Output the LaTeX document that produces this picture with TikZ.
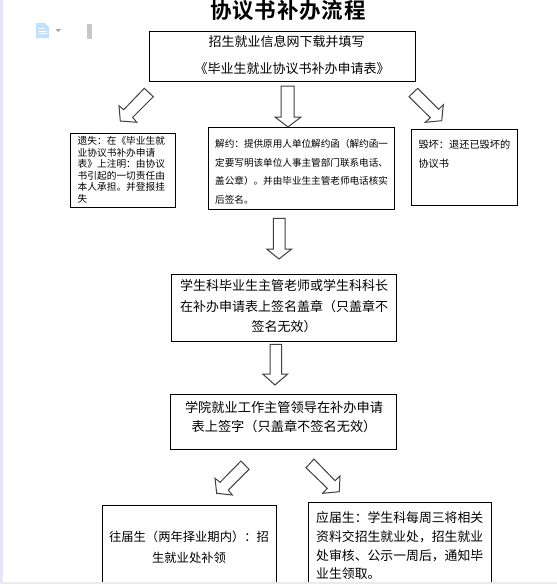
\documentclass[tikz,border=0pt]{standalone}
\usepackage{fontspec}
\setmainfont{Noto Sans CJK SC}[BoldFont={Noto Sans CJK SC Bold}]
\tikzset{
  x=1pt,y=-1pt,
  flowbox/.style={draw=black,line width=1pt,fill=white,inner sep=0pt},
  blockarrow/.style={draw=black!75,line width=1pt,fill=white,line join=miter},
  bodytext/.style={inner sep=0pt,align=left,anchor=north west,font=\fontsize{12.85}{18.7}\selectfont},
  smalltext/.style={inner sep=0pt,align=left,anchor=north west,font=\fontsize{9.7}{11.5}\selectfont},
  centertext/.style={inner sep=0pt,align=center},
}
\begin{document}
\begin{tikzpicture}
\useasboundingbox (0,0) rectangle (557,584);
\fill[white] (0,0) rectangle (557,584);
% toolbar remnants
\fill[blue!45!cyan!25!white] (36,23) -- (45,23) -- (49,27) -- (49,38) -- (36,38) -- cycle;
\draw[white,line width=0.9pt] (38.5,28)--(44,28) (38.5,31)--(47,31) (38.5,33.5)--(47,33.5);
\fill[black!35] (55.5,29) -- (61,29) -- (58.2,32) -- cycle;
\fill[black!22] (87,24) rectangle (92,39);
% title
\node[inner sep=0pt,font=\fontsize{21.5}{21.5}\selectfont\bfseries\addfontfeature{LetterSpace=3.7}] (title) at (288,10.5) {协议书补办流程};
% boxes
\node[flowbox,minimum width=266.4pt,minimum height=49.6pt] (top) at (282.5,56.5) {};
\node[centertext,font=\fontsize{13}{13}\selectfont] (toptext1) at (286.5,41.5) {招生就业信息网下载并填写};
\node[centertext,font=\fontsize{13}{13}\selectfont] (toptext2) at (292,68.5) {《毕业生就业协议书补办申请表》};
\node[flowbox,minimum width=105.4pt,minimum height=73.6pt] (lost) at (123,170.5) {};
\node[smalltext] (losttext) at (77.5,136.5) {遗失：在《毕业生就\\业协议书补办申请\\表》上注明：由协议\\书引起的一切责任由\\本人承担。并登报挂\\失};
\node[flowbox,minimum width=186.4pt,minimum height=82.3pt] (cancel) at (301.5,168.2) {};
\node[smalltext,font=\fontsize{9.6}{18.7}\selectfont] (canceltext) at (215,139) {解约：提供原用人单位解约函（解约函一\\定要写明该单位人事主管部门联系电话、\\盖公章）。并由毕业生主管老师电话核实\\后签名。};
\node[flowbox,minimum width=106.4pt,minimum height=76pt] (broken) at (464.5,167.3) {};
\node[smalltext,font=\fontsize{10.2}{18.7}\selectfont] (brokentext) at (418.3,139.5) {毁坏：退还已毁坏的\\协议书};
\node[flowbox,minimum width=225pt,minimum height=66.7pt] (sign) at (284.2,307.7) {};
\node[centertext,font=\fontsize{13}{20.4}\selectfont] (signtext) at (284,306.5) {学生科毕业生主管老师或学生科科长\\在补办申请表上签名盖章（只盖章不\\签名无效）};
\node[flowbox,minimum width=226pt,minimum height=55pt] (dean) at (283.7,421.5) {};
\node[centertext,font=\fontsize{13.2}{19}\selectfont] (deantext) at (284,417.5) {学院就业工作主管领导在补办申请\\表上签字（只盖章不签名无效）};
\draw[line width=1pt,fill=white] (102.3,584) -- (102.3,505.7) -- (276.3,505.7) -- (276.3,584);
\node[centertext,font=\fontsize{12.3}{21}\selectfont] (oldtext) at (189,547.5) {往届生（两年择业期内）：招\\生就业处补领};
\draw[line width=1pt,fill=white] (308.7,584) -- (308.7,502.7) -- (491.3,502.7) -- (491.3,584);
\node[bodytext] (newtext) at (316,511.5) {应届生：学生科每周三将相关\\资料交招生就业处，招生就业\\处审核、公示一周后，通知毕\\业生领取。};
% page edge strips
\fill[black!25!blue!10!white] (0,0) rectangle (2.7,584);
\fill[black!8] (0,582.3) rectangle (557,584);
% block arrows
\draw[blockarrow] (144.3,88.3)--(153.3,96.7)--(132.7,117.3)--(136.7,122.3)--(120.3,121)--(119,105.7)--(123.7,109.7)--cycle;
\draw[blockarrow] (281,86)--(294,86)--(294,117)--(301,117)--(288,127)--(275,117)--(281,117)--cycle;
\draw[blockarrow] (417.7,88.3)--(409,96.7)--(430.3,117.7)--(425.3,122.3)--(441.7,120.7)--(443.3,104.7)--(438.7,109.3)--cycle;
\draw[blockarrow] (273.3,218.3)--(285,218.3)--(285,249)--(291.7,249)--(279,259)--(266.7,249)--(273.3,249)--cycle;
\draw[blockarrow] (270,344.3)--(281.7,344.3)--(281.7,374)--(287.7,374)--(275,385)--(262.7,374)--(270,374)--cycle;
\draw[blockarrow] (241,461)--(249,469.3)--(228.3,490)--(232.3,495)--(216.7,493.3)--(215,478.3)--(220,482.3)--cycle;
\draw[blockarrow] (314,459)--(306,467.7)--(327.3,488.3)--(322.7,493.3)--(339.3,491.7)--(340,476)--(335,480.7)--cycle;
\end{tikzpicture}
\end{document}
